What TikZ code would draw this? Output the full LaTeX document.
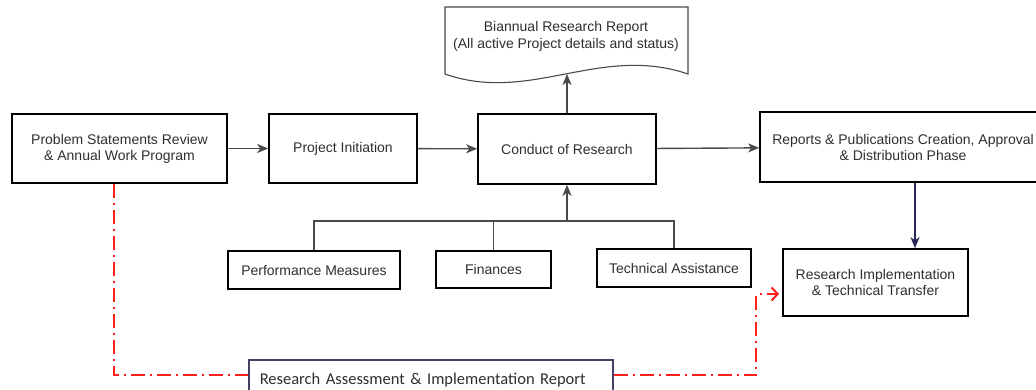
\documentclass[tikz,border=0pt]{standalone}
\usepackage{fontspec}
\setmainfont{Liberation Sans}
\newfontfamily\reportfont{Carlito}
\usepackage{tikz}
\usetikzlibrary{arrows.meta}
\definecolor{txt}{HTML}{2E2E2E}
\definecolor{wire}{HTML}{4A4A4A}
\definecolor{navyline}{HTML}{2B2A5C}
\definecolor{reportline}{HTML}{45405F}
\definecolor{loopred}{HTML}{FF1E1E}

\begin{document}
\begin{tikzpicture}[x=1pt,y=-1pt,>={Stealth[length=11pt,width=9pt,inset=3pt]},
    box/.style={draw,line width=1.6pt,text=txt,align=center,inner sep=0pt,
                font=\fontsize{14}{16}\selectfont},
    flow/.style={->,line width=1.4pt,draw=wire},
    loopback/.style={line width=1.6pt,draw=loopred,
                dash pattern=on 14pt off 5pt on 2pt off 5pt}]
  \useasboundingbox (0,0) rectangle (1036,389);

  % main line of the process
  \node[box,minimum width=215,minimum height=69] (problem)  at (119.5,148.5) {Problem Statements Review\\ \& Annual Work Program};
  \node[box,minimum width=148,minimum height=69] (initiate) at (343,148.5)   {Project Initiation};
  \node[box,minimum width=178,minimum height=70] (conduct)  at (567,149)     {Conduct of Research};
  \node[box,minimum width=286,minimum height=70] (reports)  at (903,147)     {Reports \& Publications Creation, Approval\\ \& Distribution Phase};
  \node[box,minimum width=185,minimum height=67] (implement) at (875.5,282.5) {Research Implementation\\ \& Technical Transfer};

  % inputs to the research
  \node[box,minimum width=172,minimum height=38] (perf)  at (314,270)   {Performance Measures};
  \node[box,minimum width=115,minimum height=37] (fin)   at (493.5,269.5) {Finances};
  \node[box,minimum width=154,minimum height=38] (tech)  at (674,268)   {Technical Assistance};

  % biannual report (document shape)
  \node[text=txt,align=center,font=\fontsize{14}{17}\selectfont] (biannual) at (566,36.5)
       {Biannual Research Report\\ (All active Project details and status)};
  \draw[line width=1.1pt,draw=wire] (445,74) -- (445,7) -- (688,7) -- (688,74)
       .. controls (600,44) and (530,104) .. (445,74);
  \coordinate (wave) at (567,74);

  \node[draw=reportline,line width=1.5pt,text=txt,align=left,anchor=north west,
        text width=342,inner xsep=11,minimum height=40,
        font=\reportfont\fontsize{16.5}{18}\selectfont] (assess) at (248,359)
       {Research Assessment \& Implementation Report};

  \coordinate (bus)  at (567,221);
  \coordinate (drop) at (915,0);
  \coordinate (bend) at (756,294);
  \coordinate (back) at (779,294);

  \draw[flow] (problem) -- (initiate);
  \draw[flow] (initiate) -- (conduct);
  \draw[flow] (conduct) -- (reports);
  \draw[flow] (conduct.north) -- (wave);
  \draw[flow,draw=navyline,fill=navyline] (reports.south -| drop) -- (implement.north -| drop);

  \draw[line width=1.4pt,draw=wire] (perf.north) |- (bus) -| (tech.north);
  \draw[line width=1.4pt,draw=wire] (fin.north) -- (fin.north |- bus);
  \draw[flow] (bus) -- (conduct.south);

  \draw[loopback] ([xshift=-5.5pt]problem.south) |- (assess.west |- 0,375);
  \draw[loopback,-{Straight Barb[length=6pt,width=13pt,line width=2pt]}]
       (assess.east |- 0,375) -| (bend) -- (back);
\end{tikzpicture}
\end{document}
